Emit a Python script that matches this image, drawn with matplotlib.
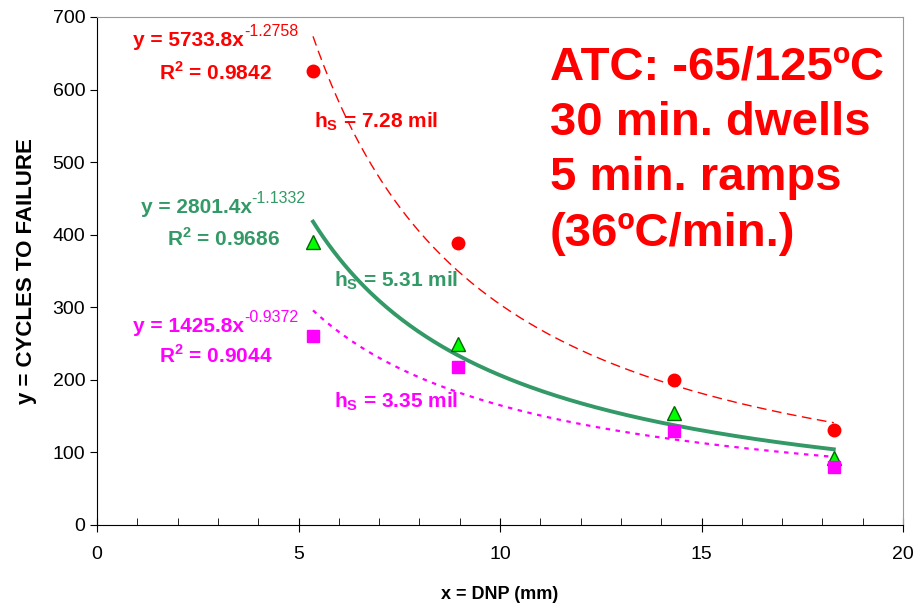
import matplotlib
matplotlib.use('AGG')
import matplotlib.pyplot as plt
import numpy as np
from matplotlib.ticker import MultipleLocator

# data
dnp = [5.36, 8.95, 14.32, 18.28]
hs_labels = ['7.28', '5.31', '3.35']
cycles_728 = [625, 388, 200, 131]
cycles_531 = [390, 249, 154, 92]
cycles_335 = [260, 218, 129, 80]

# power trendline coefficients y = a * x^b, with R^2
fit_a = [5733.8, 2801.4, 1425.8]
fit_b = [-1.2758, -1.1332, -0.9372]
fit_r2 = [0.9842, 0.9686, 0.9044]

plt.rcParams['font.family'] = ['Liberation Sans', 'DejaVu Sans']
plt.rcParams['mathtext.fontset'] = 'custom'
plt.rcParams['mathtext.rm'] = 'Liberation Sans:bold'
plt.rcParams['mathtext.bf'] = 'Liberation Sans:bold'

fig = plt.figure(figsize=(9.15, 6.06), dpi=100)
ax = fig.add_axes([0.106, 0.134, 0.881, 0.838])

series = [cycles_728, cycles_531, cycles_335]
line_col = ['#ff0000', '#339966', '#ff00ff']
styles = [dict(ls=(0, (7, 4)), lw=1.0),
          dict(ls='-', lw=2.8),
          dict(ls=(0, (2, 2.5)), lw=1.6)]
markers = [dict(marker='o', mfc='#ff0000', mec='#ff0000', ms=9),
           dict(marker='^', mfc='#00ff00', mec='#006600', ms=10, mew=1),
           dict(marker='s', mfc='#ff00ff', mec='#ff00ff', ms=8)]

x = np.array(dnp)
xs = np.linspace(x.min(), x.max(), 200)
for i, ys in enumerate(series):
    ax.plot(xs, fit_a[i] * xs ** fit_b[i], color=line_col[i], zorder=2, **styles[i])
    ax.plot(x, ys, ls='none', zorder=3, **markers[i])

# equation labels
eq_left = [0.9, 1.08, 0.9]
eq_pos = [(2.93, 668, 624), (3.13, 438, 395), (2.95, 274, 233)]
hs_pos = [(6.92, 555), (7.42, 337), (7.42, 169)]
for i in range(3):
    ex, ey1, ey2 = eq_pos[i]
    main = ax.text(eq_left[i], ey1, 'y = %.1fx' % fit_a[i],
                   color=line_col[i], fontsize=15, fontweight='bold', ha='left', va='center')
    ax.annotate('%.4f' % fit_b[i], xy=(1.0, 0.95), xycoords=main,
                color=line_col[i], fontsize=11.5, ha='left', va='center')
    ax.text(ex, ey2, r'R$^{2}$ = %.4f' % fit_r2[i],
            color=line_col[i], fontsize=15, fontweight='bold', ha='center', va='center')
    hx, hy = hs_pos[i]
    ax.text(hx, hy, r'h$_{\mathrm{S}}$ = %s mil' % hs_labels[i],
            color=line_col[i], fontsize=15, fontweight='bold', ha='center', va='center')

ax.text(11.24, 661, 'ATC: -65/125ºC\n30 min. dwells\n5 min. ramps\n(36ºC/min.)',
        color='#ff0000', fontsize=34, fontweight='bold', ha='left', va='top',
        linespacing=1.34)

ax.set_xlim(0, 20)
ax.set_ylim(0, 700)
ax.xaxis.set_major_locator(MultipleLocator(5))
ax.xaxis.set_minor_locator(MultipleLocator(1))
ax.yaxis.set_major_locator(MultipleLocator(100))
ax.tick_params(axis='x', which='major', direction='inout', length=10, labelsize=14, pad=10)
ax.tick_params(axis='x', which='minor', direction='in', length=5)
ax.tick_params(axis='y', which='major', direction='out', length=5, labelsize=14)
ax.tick_params(right=False, top=False)

for s in ['top', 'right']:
    ax.spines[s].set_color('#999999')
for s in ['left', 'bottom']:
    ax.spines[s].set_color('black')

ax.set_xlabel('x = DNP (mm)', fontsize=13, fontweight='bold')
ax.set_ylabel('y = CYCLES TO FAILURE', fontsize=16, fontweight='bold')
ax.xaxis.set_label_coords(0.5, -0.12)
ax.yaxis.set_label_coords(-0.074, 0.5)

fig.savefig('out.png', dpi=100)
